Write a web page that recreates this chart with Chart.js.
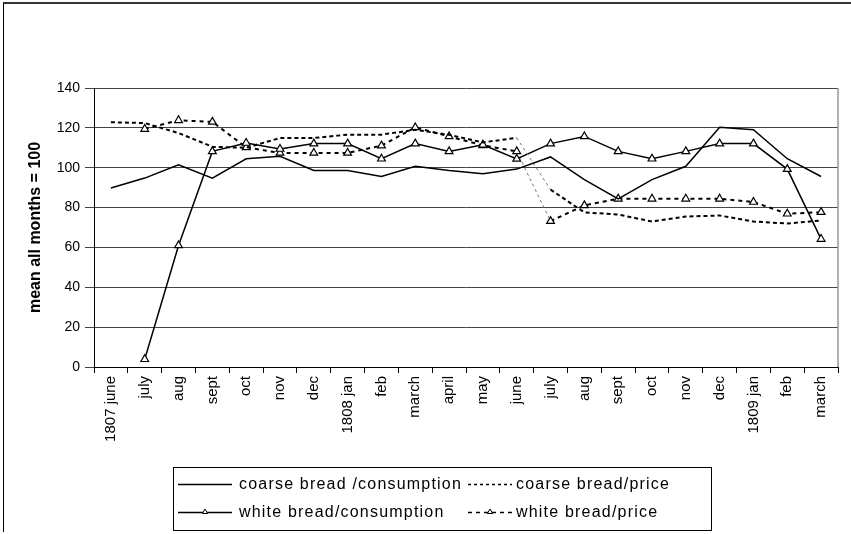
<!DOCTYPE html>
<html><head><meta charset="utf-8">
<script src="https://cdn.jsdelivr.net/npm/chart.js@4.4.1/dist/chart.umd.min.js"></script>
<style>
html,body{margin:0;padding:0;background:#fff;}
#wrap{position:relative;width:851px;height:534px;overflow:hidden;}
#frame{position:absolute;left:3px;top:2px;width:860px;height:528px;border-top:2px solid #333;border-left:1px solid #000;pointer-events:none;}
canvas{position:absolute;left:0;top:0;}
</style></head><body>
<div id="wrap"><canvas id="c" width="851" height="534"></canvas><div id="frame"></div></div>
<script>
const months = ['1807 june','july','aug','sept','oct','nov','dec','1808 jan','feb','march','april','may','june','july','aug','sept','oct','nov','dec','1809 jan','feb','march'];
const coarseConsumption = [89.8, 94.8, 101.5, 94.8, 104.5, 105.7, 98.6, 98.6, 95.6, 100.7, 98.6, 97.0, 99.3, 105.4, 94.0, 84.4, 94.0, 100.7, 120.3, 119.1, 104.5, 95.6];
const coarsePrice = [122.8, 122.4, 117.4, 110.5, 110.0, 114.9, 114.9, 116.6, 116.6, 119.0, 116.5, 112.7, 115.0, 89.0, 77.6, 76.5, 73.0, 75.5, 76.0, 73.0, 72.0, 73.5];
const whiteConsumption = [null, 3.9, 61.0, 108.2, 112.4, 109.4, 112.1, 112.1, 104.5, 112.1, 108.2, 111.5, 104.4, 112.1, 115.7, 108.2, 104.5, 108.2, 112.1, 112.1, 99.3, 64.2];
const whitePrice = [null, 119.4, 123.8, 123.0, 110.2, 107.4, 107.4, 107.4, 111.1, 120.2, 115.7, 111.2, 108.2, 73.2, 81.1, 84.4, 84.4, 84.4, 84.4, 82.8, 76.9, 77.7];
const seriesNames = ['coarse bread /consumption','coarse bread/price','white bread/consumption','white bread/price'];
const yTicks = [0,20,40,60,80,100,120,140];
const yTitle = 'mean all months = 100';

const FONT = '"Liberation Sans", Arial, sans-serif';

// thin dotted joining segment across the June->July 1808 gap
const gapSeg = {
  borderColor: ctx => ctx.p0DataIndex === 12 ? '#777' : undefined,
  borderWidth: ctx => ctx.p0DataIndex === 12 ? 1 : undefined,
  borderDash: ctx => ctx.p0DataIndex === 12 ? [3,3] : undefined
};

const frameLines = {
  id: 'frameLines',
  beforeDatasetsDraw(chart) {
    const {ctx, chartArea:a} = chart;
    ctx.save();
    ctx.strokeStyle = '#999';
    ctx.lineWidth = 1.5;
    ctx.beginPath();
    ctx.moveTo(a.right, a.top); ctx.lineTo(a.right, a.bottom);
    ctx.stroke();
    ctx.restore();
  }
};

const boxLegend = {
  id: 'boxLegend',
  afterDraw(chart) {
    const ctx = chart.ctx;
    ctx.save();
    ctx.strokeStyle = '#000';
    ctx.lineWidth = 1;
    ctx.strokeRect(173.5, 467.5, 538, 63);
    const pos = [{x:178,len:54,tx:239,y:484},{x:468,len:44,tx:516,y:484},{x:178,len:54,tx:239,y:512},{x:468,len:44,tx:516,y:512}];
    chart.data.datasets.forEach((ds, i) => {
      const p = pos[i];
      ctx.strokeStyle = '#000';
      ctx.lineWidth = i % 2 ? 1.6 : 1.3;
      ctx.setLineDash(i === 1 ? [3,3] : i === 3 ? [4,4] : []);
      ctx.beginPath(); ctx.moveTo(p.x, p.y + 0.5); ctx.lineTo(p.x + p.len, p.y + 0.5); ctx.stroke();
      ctx.setLineDash([]);
      if (ds.pointRadius > 0) {
        ctx.fillStyle = '#fff'; ctx.strokeStyle = '#000'; ctx.lineWidth = 1;
        Chart.helpers.drawPoint(ctx, {pointStyle:'triangle', radius:3, borderWidth:1, rotation:0}, p.x + p.len/2, p.y);
      }
      ctx.fillStyle = '#000';
      ctx.font = '16px ' + FONT;
      ctx.letterSpacing = '1.2px';
      ctx.textBaseline = 'middle';
      ctx.textAlign = 'left';
      ctx.fillText(ds.label, p.tx, p.y + 1);
      ctx.letterSpacing = '0px';
    });
    ctx.restore();
  }
};

new Chart(document.getElementById('c'), {
  type: 'line',
  data: {
    labels: months,
    datasets: [
      {label: seriesNames[0], data: coarseConsumption, borderColor:'#000', borderWidth:1.5, pointRadius:0, tension:0},
      {label: seriesNames[1], data: coarsePrice, borderColor:'#000', borderWidth:2, borderDash:[4,3], pointRadius:0, tension:0, segment: gapSeg},
      {label: seriesNames[2], data: whiteConsumption, borderColor:'#000', borderWidth:1.5, pointStyle:'triangle', pointRadius:4.5, pointBackgroundColor:'#fff', pointBorderColor:'#000', pointBorderWidth:1.2, tension:0},
      {label: seriesNames[3], data: whitePrice, borderColor:'#000', borderWidth:2, borderDash:[4,4], pointStyle:'triangle', pointRadius:4.5, pointBackgroundColor:'#fff', pointBorderColor:'#000', pointBorderWidth:1.2, tension:0, segment: gapSeg}
    ]
  },
  options: {
    responsive: false,
    animation: false,
    devicePixelRatio: 1,
    layout: {padding: {left: 0, top: 88, right: 13, bottom: 0}},
    plugins: {legend: {display: false}, tooltip: {enabled: false}},
    scales: {
      x: {
        offset: true,
        grid: {offset: true, drawOnChartArea: false, color: '#000', tickLength: 6, lineWidth: 1},
        border: {color: '#000', width: 1},
        ticks: {autoSkip: false, maxRotation: 90, minRotation: 90, color: '#000', font: {family: FONT, size: 15}, padding: 3},
        afterFit(s) { s.height = 167; }
      },
      y: {
        min: 0, max: 140,
        afterBuildTicks(s) { s.ticks = yTicks.map(v => ({value: v})); },
        grid: {color: '#444', lineWidth: 1, tickLength: 9},
        border: {color: '#000', width: 1},
        ticks: {color: '#000', font: {family: FONT, size: 14}, padding: 5},
        title: {display: true, text: yTitle, color: '#000', font: {family: FONT, size: 16, weight: 'bold'}, padding: {top: 26, bottom: 0}},
        afterFit(s) { s.width = 94; }
      }
    }
  },
  plugins: [frameLines, boxLegend]
});
</script>
</body></html>
